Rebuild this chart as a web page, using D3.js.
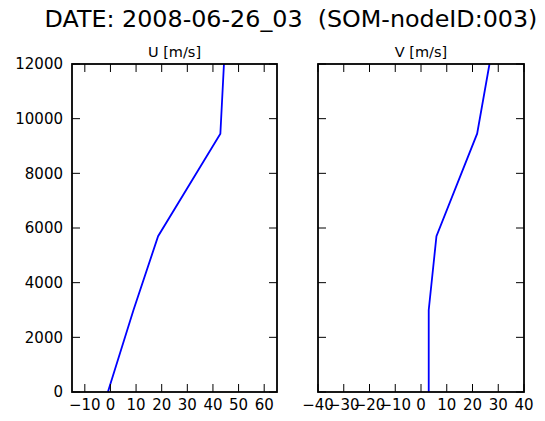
<!DOCTYPE html>
<html>
<head>
<meta charset="utf-8">
<script src="https://cdn.jsdelivr.net/npm/d3@7"></script>
<style>
  body { margin: 0; background: #fff; }
  svg { display: block; font-family: "DejaVu Sans", sans-serif; }
  .title { white-space: pre; }
</style>
</head>
<body>
<svg id="chart" width="545" height="421"></svg>
<script>
// wind profile, height levels in m
const heights = [0, 3000, 5700, 9450, 12000];
const uWind = [-1, 9, 18.6, 42.9, 44.3];
const vWind = [3.0, 3.0, 6.0, 21.8, 26.6];

const uTicks = [-10, 0, 10, 20, 30, 40, 50, 60];
const vTicks = [-40, -30, -20, -10, 0, 10, 20, 30, 40];
const hTicks = [0, 2000, 4000, 6000, 8000, 10000, 12000];

const title = 'DATE: 2008-06-26_03  (SOM-nodeID:003)';

const svg = d3.select('#chart');
const plotTop = 64, plotBottom = 392, tickLen = 8;
const fmt = d => String(d).replace('-', '\u2212');

svg.append('text')
  .attr('class', 'title')
  .attr('x', 291).attr('y', 27)
  .attr('text-anchor', 'middle')
  .style('font-size', '23.8px')
  .attr('fill', '#000')
  .text(title);

const y = d3.scaleLinear().domain([0, 12000]).range([plotBottom, plotTop]);

function panel(left, right, xDomain, xTicks, values, label, showY){
  const x = d3.scaleLinear().domain(xDomain).range([left, right]);
  const g = svg.append('g');

  // line
  const line = d3.line().x(d => x(d[0])).y(d => y(d[1]));
  g.append('path')
    .datum(values.map((v, i) => [v, heights[i]]))
    .attr('fill', 'none')
    .attr('stroke', '#0000ff')
    .attr('stroke-width', 1.8)
    .attr('d', line);

  // inward ticks on all four sides
  const ticks = g.append('g').attr('stroke', '#000').attr('stroke-width', 1);
  xTicks.forEach(t => {
    ticks.append('line').attr('x1', x(t)).attr('x2', x(t)).attr('y1', plotBottom).attr('y2', plotBottom - tickLen);
    ticks.append('line').attr('x1', x(t)).attr('x2', x(t)).attr('y1', plotTop).attr('y2', plotTop + tickLen);
  });
  hTicks.forEach(t => {
    ticks.append('line').attr('x1', left).attr('x2', left + tickLen).attr('y1', y(t)).attr('y2', y(t));
    ticks.append('line').attr('x1', right).attr('x2', right - tickLen).attr('y1', y(t)).attr('y2', y(t));
  });

  g.append('rect')
    .attr('x', left).attr('y', plotTop)
    .attr('width', right - left).attr('height', plotBottom - plotTop)
    .attr('fill', 'none').attr('stroke', '#000').attr('stroke-width', 1.8);

  g.selectAll('text.xt').data(xTicks).join('text')
    .attr('class', 'xt')
    .attr('x', d => x(d)).attr('y', 410)
    .attr('text-anchor', 'middle')
    .style('font-size', '15px')
    .attr('fill', '#000')
    .text(fmt);

  if(showY){
    g.selectAll('text.yt').data(hTicks).join('text')
      .attr('class', 'yt')
      .attr('x', left - 9).attr('y', d => y(d))
      .attr('dy', '0.36em')
      .attr('text-anchor', 'end')
      .style('font-size', '15px')
      .attr('fill', '#000')
      .text(d => d);
  }

  g.append('text')
    .attr('x', (left + right) / 2).attr('y', 57)
    .attr('text-anchor', 'middle')
    .style('font-size', '14.5px')
    .attr('fill', '#000')
    .text(label);
}

panel(72, 277, [-15, 65], uTicks, uWind, 'U [m/s]', true);
panel(318, 524, [-40, 40], vTicks, vWind, 'V [m/s]', false);
</script>
</body>
</html>
